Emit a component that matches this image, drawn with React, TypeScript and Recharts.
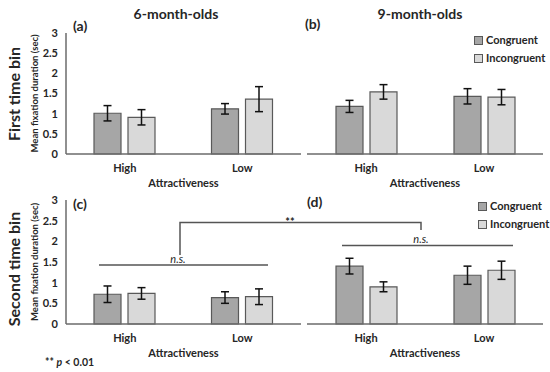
import React from 'react';
import { BarChart, Bar, XAxis, YAxis, ErrorBar, Legend } from 'recharts';

// values (mean fixation duration, sec)
const categories = ['High', 'Low'];
const yTicks = [0, 0.5, 1, 1.5, 2, 2.5, 3];

const congA = [1.01, 1.12];
const congErrA = [0.19, 0.13];
const incA = [0.91, 1.36];
const incErrA = [0.19, 0.31];

const congB = [1.18, 1.43];
const congErrB = [0.15, 0.19];
const incB = [1.54, 1.41];
const incErrB = [0.18, 0.19];

const congC = [0.72, 0.64];
const congErrC = [0.2, 0.14];
const incC = [0.74, 0.66];
const incErrC = [0.14, 0.19];

const congD = [1.4, 1.18];
const congErrD = [0.19, 0.22];
const incD = [0.9, 1.3];
const incErrD = [0.12, 0.22];

const FONT = 'Lato, "Open Sans", sans-serif';
const TXT = '#262626';
const CONG_FILL = '#a6a6a6';
const INC_FILL = '#d9d9d9';
const EDGE = '#595959';
const AXIS = '#6b6b6b';

const build = (c: number[], ce: number[], i: number[], ie: number[]) =>
  categories.map((name, k) => ({
    name,
    Congruent: c[k],
    congErr: ce[k],
    Incongruent: i[k],
    incErr: ie[k],
  }));

const LegendBox = () => (
  <div style={{ fontFamily: FONT, fontSize: 11, fontWeight: 700, color: TXT, lineHeight: '18px' }}>
    {[
      ['Congruent', CONG_FILL],
      ['Incongruent', INC_FILL],
    ].map(([label, fill]) => (
      <div key={label} style={{ display: 'flex', alignItems: 'center', whiteSpace: 'nowrap' }}>
        <span
          style={{
            display: 'inline-block',
            width: 7,
            height: 7,
            background: fill,
            border: `1px solid ${EDGE}`,
            marginRight: 3,
          }}
        />
        {label}
      </div>
    ))}
  </div>
);

type PanelProps = {
  data: ReturnType<typeof build>;
  left: number;
  top: number;
  width: number;
  height: number;
  margin: { top: number; right: number; left: number; bottom: number };
  showY: boolean;
  xAxisHeight: number;
  labelOffset: number;
  legendPos?: { left: number; top: number };
};

function Panel(p: PanelProps) {
  return (
    <div style={{ position: 'absolute', left: p.left, top: p.top }}>
      <BarChart
        width={p.width}
        height={p.height}
        data={p.data}
        margin={p.margin}
        barSize={27}
        barGap={7}
      >
        <XAxis
          dataKey="name"
          tickLine={false}
          axisLine={{ stroke: AXIS, strokeWidth: 1.5 }}
          tick={{ fontSize: 11, fontWeight: 700, fill: TXT, fontFamily: FONT }}
          tickMargin={4}
          height={p.xAxisHeight}
          label={{
            value: 'Attractiveness',
            position: 'insideBottom',
            offset: p.labelOffset,
            style: { fontSize: 11, fontWeight: 700, fill: TXT, fontFamily: FONT },
          }}
        />
        <YAxis
          hide={!p.showY}
          width={66}
          domain={[0, 3]}
          ticks={yTicks}
          interval={0}
          tickLine={false}
          axisLine={{ stroke: AXIS, strokeWidth: 1.5 }}
          tick={{ fontSize: 11, fontWeight: 700, fill: TXT, fontFamily: FONT }}
        />
        {p.legendPos && (
          <Legend
            layout="vertical"
            align="center"
            verticalAlign="middle"
            content={() => <LegendBox />}
            wrapperStyle={{ position: 'absolute', left: p.legendPos.left, top: p.legendPos.top, width: 80 }}
          />
        )}
        <Bar dataKey="Congruent" fill={CONG_FILL} stroke={EDGE} strokeWidth={1.2} isAnimationActive={false}>
          <ErrorBar dataKey="congErr" width={4} stroke="#111" strokeWidth={1.5} />
        </Bar>
        <Bar dataKey="Incongruent" fill={INC_FILL} stroke={EDGE} strokeWidth={1.2} isAnimationActive={false}>
          <ErrorBar dataKey="incErr" width={4} stroke="#111" strokeWidth={1.5} />
        </Bar>
      </BarChart>
    </div>
  );
}

export default function App() {
  const txt = { fontFamily: FONT, fill: TXT };
  return (
    <div style={{ position: 'absolute', left: 0, top: 0, width: 550, height: 372, background: '#fff' }}>
      <Panel
        data={build(congA, congErrA, incA, incErrA)}
        left={0}
        top={0}
        width={305}
        height={190}
        margin={{ top: 33, right: 4, left: 0, bottom: 0 }}
        showY
        xAxisHeight={36}
        labelOffset={3}
      />
      <Panel
        data={build(congB, congErrB, incB, incErrB)}
        left={305}
        top={0}
        width={245}
        height={190}
        margin={{ top: 33, right: 7, left: 2, bottom: 0 }}
        showY={false}
        xAxisHeight={36}
        labelOffset={3}
        legendPos={{ left: 169, top: 31 }}
      />
      <Panel
        data={build(congC, congErrC, incC, incErrC)}
        left={0}
        top={170}
        width={305}
        height={202}
        margin={{ top: 30, right: 4, left: 0, bottom: 0 }}
        showY
        xAxisHeight={48}
        labelOffset={15}
      />
      <Panel
        data={build(congD, congErrD, incD, incErrD)}
        left={305}
        top={170}
        width={245}
        height={202}
        margin={{ top: 30, right: 7, left: 2, bottom: 0 }}
        showY={false}
        xAxisHeight={48}
        labelOffset={15}
        legendPos={{ left: 173, top: 27 }}
      />

      {/* titles, row labels and significance annotations */}
      <svg width={550} height={372} style={{ position: 'absolute', left: 0, top: 0, pointerEvents: 'none' }}>
        <text x={176} y={19} textAnchor="middle" fontSize={14} fontWeight={700} {...txt}>6-month-olds</text>
        <text x={420} y={19} textAnchor="middle" fontSize={14} fontWeight={700} {...txt}>9-month-olds</text>

        <text transform="translate(20,94) rotate(-90)" textAnchor="middle" fontSize={16} fontWeight={700} {...txt}>First time bin</text>
        <text transform="translate(20,269) rotate(-90)" textAnchor="middle" fontSize={16} fontWeight={700} {...txt}>Second time bin</text>

        <text transform="translate(38,93.5) rotate(-90)" textAnchor="middle" fontSize={9.5} fontWeight={700} {...txt}>Mean fixation duration (sec)</text>
        <text transform="translate(38,262) rotate(-90)" textAnchor="middle" fontSize={9.5} fontWeight={700} {...txt}>Mean fixation duration (sec)</text>

        <text x={73} y={31} fontSize={14} fontWeight={700} {...txt}>(a)</text>
        <text x={305} y={29} fontSize={14} fontWeight={700} {...txt}>(b)</text>
        <text x={73} y={209} fontSize={14} fontWeight={700} {...txt}>(c)</text>
        <text x={307} y={207} fontSize={14} fontWeight={700} {...txt}>(d)</text>

        <g stroke="#555" strokeWidth={1.5} fill="none">
          <line x1={99} y1={265} x2={268} y2={265} />
          <line x1={342} y1={245.5} x2={513} y2={245.5} />
          <polyline points="180,255 180,222.5 421,222.5 421,230" />
        </g>
        <text x={178} y={263} textAnchor="middle" fontSize={11} fontStyle="italic" {...txt}>n.s.</text>
        <text x={421} y={243} textAnchor="middle" fontSize={11} fontStyle="italic" {...txt}>n.s.</text>
        <text x={290} y={226} textAnchor="middle" fontSize={11} fontWeight={700} {...txt}>**</text>

        <text x={45} y={366} fontSize={10.5} fontWeight={700} {...txt}>
          ** <tspan fontStyle="italic">p</tspan> &lt; 0.01
        </text>
      </svg>
    </div>
  );
}
